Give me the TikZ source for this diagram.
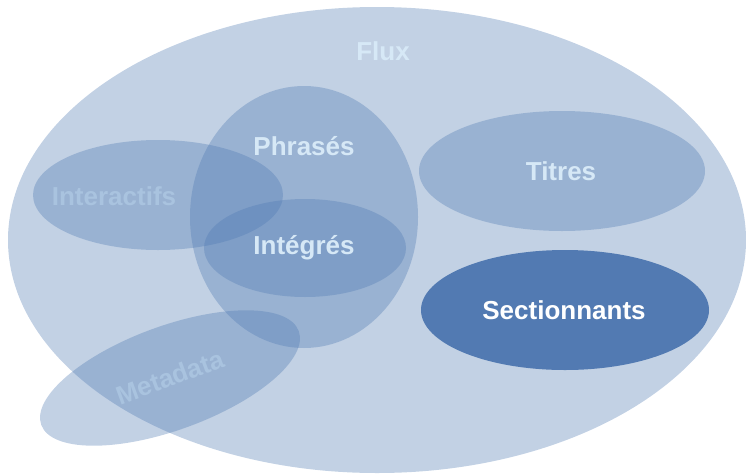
\documentclass[tikz,border=0pt]{standalone}
\usepackage{fontspec}
\setmainfont{Liberation Sans}
\usetikzlibrary{shapes.geometric}
\definecolor{base}{HTML}{4F7AB3}
\definecolor{fluxbg}{HTML}{C2D1E4}
\definecolor{sect}{HTML}{527AB2}
\definecolor{lbl}{HTML}{D6E8F6}
\definecolor{faint}{HTML}{A9C3DF}
\begin{document}
\begin{tikzpicture}[x=1pt,y=-1pt,
  blob/.style={ellipse,inner sep=0pt,fill=base,fill opacity=0.35,draw=none},
  txt/.style={font=\bfseries\fontsize{26}{30}\selectfont,inner sep=0pt,text=lbl}]
\useasboundingbox (0,0) rectangle (746,474);
\node[ellipse,inner sep=0pt,fill=fluxbg,minimum width=738pt,minimum height=466pt] (flux) at (377,240) {};
\node[blob,minimum width=250pt,minimum height=110pt] (inter) at (158,195) {};
\node[blob,minimum width=228pt,minimum height=262pt] (phr) at (304,217) {};
\node[blob,minimum width=202pt,minimum height=98pt] (integ) at (305,248) {};
\node[blob,minimum width=286pt,minimum height=120pt] (titres) at (562,171) {};
\node[ellipse,inner sep=0pt,fill=sect,minimum width=288pt,minimum height=120pt] (sect) at (565,310) {};
\node[blob,minimum width=274pt,minimum height=104pt,rotate=20] (meta) at (170,378) {};
\node[txt] (tflux) at (383,51) {Flux};
\node[txt] (tphr) at (304,146) {Phrasés};
\node[txt,text=faint] (tinter) at (114,196) {Interactifs};
\node[txt] (tinteg) at (304,248) {Intégrés};
\node[txt] (ttitres) at (561,171) {Titres};
\node[txt,text=white] (tsect) at (564,310) {Sectionnants};
\node[txt,text=faint,rotate=20] (tmeta) at (170,377) {Metadata};
\end{tikzpicture}
\end{document}
